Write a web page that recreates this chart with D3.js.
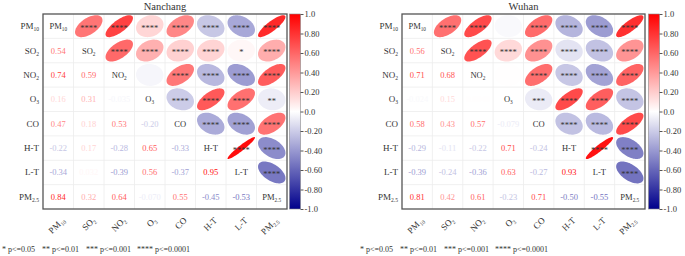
<!DOCTYPE html>
<html>
<head>
<meta charset="utf-8">
<script src="https://cdn.jsdelivr.net/npm/d3@7"></script>
<style>
html,body{margin:0;padding:0;background:#fff;}
svg{display:block;}
text{font-family:"Liberation Serif","DejaVu Serif",serif;}
</style>
</head>
<body>
<svg id="chart" width="685" height="256"></svg>
<script>
// ---------- data ----------
const variables = ["PM10","SO2","NO2","O3","CO","H-T","L-T","PM2.5"];
const varBase   = ["PM","SO","NO","O","CO","H-T","L-T","PM"];
const varSub    = ["10","2","2","3","","","","2.5"];

const cities = ["Nanchang","Wuhan"];

// lower-triangle correlation coefficients (row i, col j<i)
const nanchangR = [
  [],
  [0.54],
  [0.74, 0.59],
  [0.16, 0.31, -0.035],
  [0.47, 0.18, 0.53, -0.20],
  [-0.22, 0.17, -0.28, 0.65, -0.33],
  [-0.34, 0.032, -0.39, 0.56, -0.37, 0.95],
  [0.84, 0.32, 0.64, -0.070, 0.55, -0.45, -0.53]
];
const nanchangStars = [
  [],
  ["****"],
  ["****","****"],
  ["****","****",""],
  ["****","****","****","****"],
  ["****","****","****","****","****"],
  ["****","*","****","****","****","****"],
  ["****","****","****","**","****","****","****"]
];
const wuhanR = [
  [],
  [0.56],
  [0.71, 0.68],
  [-0.024, 0.15, 0.004],
  [0.58, 0.43, 0.57, -0.079],
  [-0.29, -0.11, -0.22, 0.71, -0.24],
  [-0.39, -0.24, -0.36, 0.63, -0.27, 0.93],
  [0.81, 0.42, 0.61, -0.23, 0.71, -0.50, -0.55]
];
const wuhanStars = [
  [],
  ["****"],
  ["****","****"],
  ["","****",""],
  ["****","****","****","***"],
  ["****","****","****","****","****"],
  ["****","****","****","****","****","****"],
  ["****","****","****","****","****","****","****"]
];

const colorbarTicks  = [-1,-0.8,-0.6,-0.4,-0.2,0,0.2,0.4,0.6,0.8,1];
const colorbarLabels = ["-1.0","-0.80","-0.60","-0.40","-0.20","0.0","0.20","0.40","0.60","0.80","1.0"];
const legendStars = ["*","**","***","****"];
const legendP     = ["p<=0.05","p<=0.01","p<=0.001","p<=0.0001"];

// ---------- drawing ----------
const svg = d3.select("#chart");
const cmap = d3.scaleLinear().domain([-1,0,1]).range(["#00008b","#ffffff","#ff0000"]).clamp(true);
const fmt = d3.formatLocale({decimal:".",thousands:",",grouping:[3],currency:["",""],minus:"-"}).format(".2r");

const defs = svg.append("defs");
const grad = defs.append("linearGradient").attr("id","cbgrad").attr("x1",0).attr("y1",1).attr("x2",0).attr("y2",0);
d3.range(0,1.0001,0.05).forEach(t=>{
  grad.append("stop").attr("offset",t).attr("stop-color",cmap(-1+2*t));
});

const panels = [
  {name:cities[0], R:nanchangR, S:nanchangStars, x0:43, x1:287, cbx:289.5, legendX:2},
  {name:cities[1], R:wuhanR,    S:wuhanStars,    x0:402, x1:645, cbx:648.5, legendX:360}
];
const y0 = 14, y1 = 209;
const legendOffsets = [0,40,84,135];

panels.forEach(p=>{
  const g = svg.append("g");
  const x = d3.scaleBand().domain(d3.range(variables.length)).range([p.x0,p.x1]);
  const y = d3.scaleBand().domain(d3.range(variables.length)).range([y0,y1]);
  const cw = x.bandwidth(), ch = y.bandwidth();

  const grid = g.append("g").attr("stroke","#ececec").attr("stroke-width",0.8);
  d3.range(1,variables.length).forEach(i=>{
    grid.append("line").attr("x1",x(i)).attr("x2",x(i)).attr("y1",y0).attr("y2",y1);
    grid.append("line").attr("y1",y(i)).attr("y2",y(i)).attr("x1",p.x0).attr("x2",p.x1);
  });

  const cells = [];
  for(let i=0;i<variables.length;i++){
    for(let j=0;j<i;j++){
      cells.push({i:i,j:j,r:p.R[i][j],s:p.S[i][j]});
    }
  }
  g.selectAll("text.val").data(cells).join("text")
    .attr("class","val")
    .attr("x",d=>x(d.j)+cw/2)
    .attr("y",d=>y(d.i)+ch/2+3)
    .attr("text-anchor","middle")
    .attr("font-size",8.5)
    .attr("fill",d=>cmap(d.r))
    .text(d=>fmt(d.r));

  const ellipse = (cx,cy,r)=>{
    const dd = Math.acos(r);
    const pts = d3.range(0,72).map(k=>{
      const t = k/72*2*Math.PI;
      return [cx + 0.45*cw*Math.cos(t+dd/2), cy - 0.45*ch*Math.cos(t-dd/2)];
    });
    return d3.line().curve(d3.curveLinearClosed)(pts);
  };
  g.selectAll("path.ell").data(cells).join("path")
    .attr("class","ell")
    .attr("d",d=>ellipse(x(d.i)+cw/2, y(d.j)+ch/2, d.r))
    .attr("fill",d=>cmap(d.r));
  g.selectAll("text.star").data(cells).join("text")
    .attr("class","star")
    .attr("x",d=>x(d.i)+cw/2)
    .attr("y",d=>y(d.j)+ch/2+4.5)
    .attr("text-anchor","middle")
    .attr("font-size",8.5)
    .attr("fill","#333")
    .text(d=>d.s);

  const lab = (sel, i, fs)=>{
    sel.append("tspan").text(varBase[i]);
    if(varSub[i]) sel.append("tspan").attr("font-size",fs*0.62).attr("dy",2).text(varSub[i]);
  };
  variables.forEach((v,i)=>{
    const t = g.append("text").attr("x",x(i)+cw/2).attr("y",y(i)+ch/2+3)
      .attr("text-anchor","middle").attr("font-size",8.5).attr("fill","#333");
    lab(t,i,8.5);
    const ty = g.append("text").attr("x",p.x0-4).attr("y",y(i)+ch/2+3)
      .attr("text-anchor","end").attr("font-size",9).attr("fill","#333");
    lab(ty,i,9);
    const tx = g.append("text")
      .attr("transform",`translate(${x(i)+cw/2+7},${y1+12}) rotate(-45)`)
      .attr("text-anchor","end").attr("font-size",9).attr("fill","#333");
    lab(tx,i,9);
  });

  g.append("rect").attr("x",p.x0).attr("y",y0).attr("width",p.x1-p.x0).attr("height",y1-y0)
    .attr("fill","none").attr("stroke","#555").attr("stroke-width",1.3);

  g.append("text").attr("x",(p.x0+p.x1)/2).attr("y",10).attr("text-anchor","middle")
    .attr("font-size",10.5).attr("fill","#333").text(p.name);

  const cb = d3.scaleLinear().domain([-1,1]).range([y1,y0]);
  g.append("rect").attr("x",p.cbx).attr("y",y0).attr("width",11).attr("height",y1-y0)
    .attr("fill","url(#cbgrad)").attr("stroke","#888").attr("stroke-width",0.6);
  const ax = g.append("g").attr("transform",`translate(${p.cbx+11},0)`)
    .call(d3.axisRight(cb).tickValues(colorbarTicks).tickSize(3)
      .tickFormat((d,k)=>colorbarLabels[k]));
  ax.select(".domain").remove();
  ax.selectAll("line").attr("stroke","#555");
  ax.selectAll("text").attr("font-size",8.5).attr("fill","#333").attr("x",4)
    .style("font-family",'"Liberation Serif",serif');

  legendStars.forEach((s,k)=>{
    g.append("text").attr("x",p.legendX+legendOffsets[k]).attr("y",252)
      .attr("font-size",8).attr("fill","#333")
      .text(s+" "+legendP[k]);
  });
});
</script>
</body>
</html>
